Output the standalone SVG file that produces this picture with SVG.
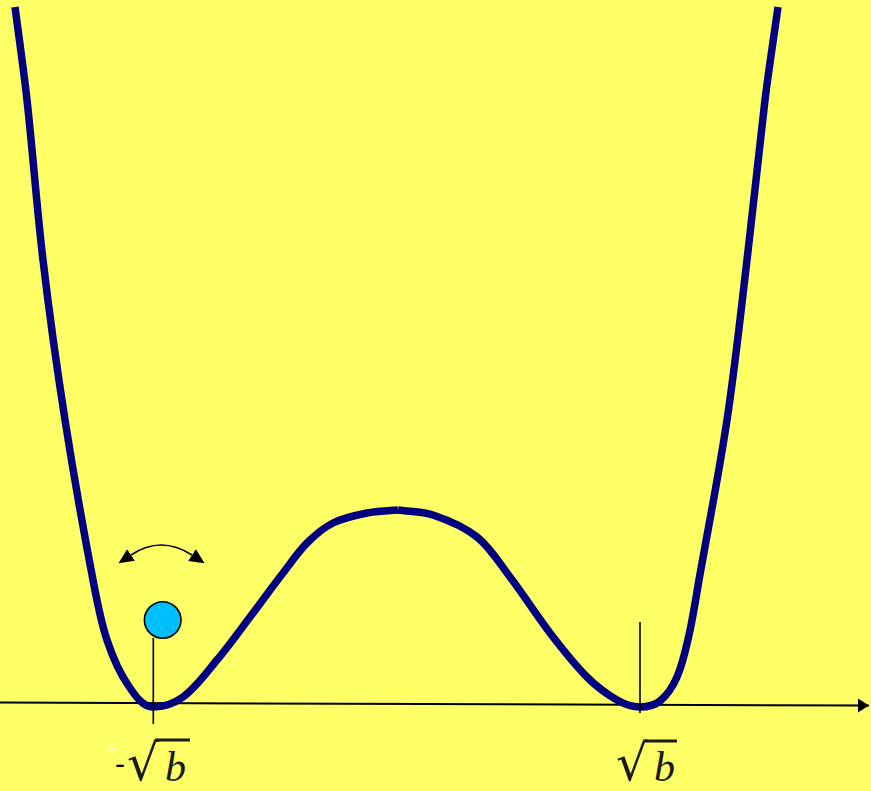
<svg xmlns="http://www.w3.org/2000/svg" width="871" height="791" viewBox="0 0 871 791">
<style>
.curve{fill:none;stroke:#000080;stroke-width:7.5;stroke-linecap:butt;stroke-linejoin:round}
.tick{stroke:#000;stroke-width:1.6;fill:none}
.axis{stroke:#000;stroke-width:2;fill:none}
.rad{font-family:"DejaVu Serif","Liberation Serif",serif;fill:#1a1a1a}
.var{font-family:"Liberation Serif","DejaVu Serif",serif;font-style:italic;fill:#1a1a1a}
.dash{font-family:"Liberation Sans",Arial,sans-serif}
</style>
<defs>
<marker id="ah" markerUnits="userSpaceOnUse" markerWidth="18" markerHeight="16" refX="0" refY="8" orient="auto-start-reverse">
<path d="M0,1 L15,8 L0,15 z" fill="#000"/>
</marker>
<marker id="axh" markerUnits="userSpaceOnUse" markerWidth="14" markerHeight="16" refX="11" refY="7" orient="auto">
<path d="M0,0 L11,7 L0,14 z" fill="#000"/>
</marker>
</defs>
<rect x="0" y="0" width="871" height="791" fill="#FFFF66"/>
<g id="connectors">
<line id="x-axis" class="axis" x1="0" y1="702.5" x2="869" y2="705.5" marker-end="url(#axh)"/>
<path id="oscillation" d="M131,555 Q161,535 192,555" fill="none" stroke="#000" stroke-width="1.6" marker-start="url(#ah)" marker-end="url(#ah)"/>
</g>
<g id="potential">
<path class="curve" d="M15,7 C19,38 23.6,68.9 27,100 C32.9,153.3 36.7,206.8 43,260 C49.3,313.4 56.7,366.8 65,420 C73.4,473.5 82.8,526.8 93,580 C96.9,600.2 100.5,620.6 107,640 C112.2,655.6 118.8,671.6 128,685 C134.2,694 141.9,707 153,707 C163.5,707 174.8,703 183,697 C196.1,687.4 206.3,672.8 217,660 C228.6,646.2 239.1,631.4 250,617 C261.1,602.4 271.8,587.5 283,573 C290.8,562.9 298,552 307,543 C314.7,535.3 323.4,527.8 333,523 C343.4,517.8 355.5,515.3 367,513 C377.1,511 387.7,511 398,510"/>
<path class="curve" d="M398,510 C409.7,511.7 422,511.2 433,515 C448.3,520.2 464.5,526.9 477,537 C490.2,547.6 499.5,563.2 510,577 C523.9,595.2 536,614.8 550,633 C561.7,648.2 573.5,663.5 587,677 C595.9,685.9 606.2,693.9 617,700 C623.9,703.9 632,707 640,707 C647,707 654.9,705.2 660,701 C667.2,695.2 673.1,685.8 677,677 C682.8,663.8 685.8,649.2 689,635 C693.1,616.9 695.8,598.4 699,580 C708.4,526.7 719,473.5 727,420 C735,366.9 740.7,313.4 747,260 C753.3,206.7 758.5,153.3 765,100 C768.8,68.9 773.7,38 778,7"/>
</g>
<g id="left-minimum">
<line class="tick" x1="153.3" y1="638" x2="153.3" y2="724"/>
</g>
<g id="right-minimum">
<line class="tick" x1="640" y1="622" x2="640" y2="713"/>
</g>
<g id="ball">
<circle cx="162.7" cy="620" r="18.3" fill="#00BFFF" stroke="#000" stroke-width="1.6"/>
</g>
<g id="label-left">
<text class="dash" x="108" y="755" font-size="26" fill="#FFFFFF">-</text>
<text class="dash" x="115" y="774" font-size="30" fill="#000">-</text>
<text class="rad" x="127" y="780" font-size="50">√</text>
<line x1="155" y1="740" x2="190" y2="740" stroke="#1a1a1a" stroke-width="3"/>
<text class="var" x="165" y="781" font-size="42">b</text>
</g>
<g id="label-right">
<text class="rad" x="616" y="780" font-size="50">√</text>
<line x1="644" y1="741" x2="677" y2="741" stroke="#1a1a1a" stroke-width="3"/>
<text class="var" x="654" y="781" font-size="42">b</text>
</g>
</svg>
